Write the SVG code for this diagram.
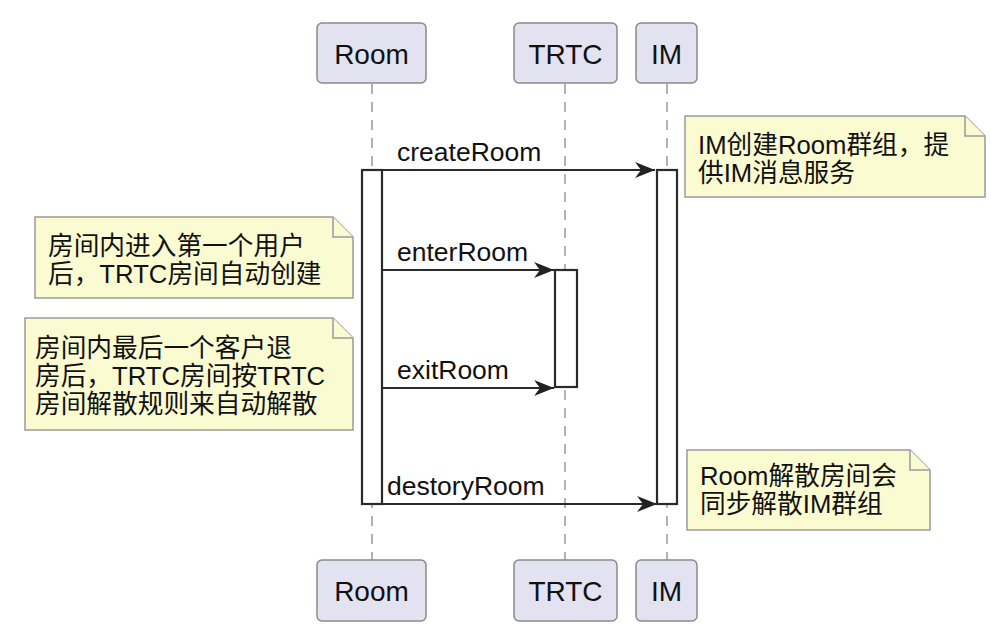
<svg xmlns="http://www.w3.org/2000/svg" width="991" height="625" viewBox="0 0 991 625">
<style>
.part{fill:#E2E2F0;stroke:#8a8a8a;stroke-width:1.5}
.plabel{font-family:"Liberation Sans","Noto Sans CJK SC",sans-serif;font-size:28px;fill:#111;text-anchor:middle}
.life{stroke:#999;stroke-width:1.5;stroke-dasharray:10 8;fill:none}
.act{fill:#fff;stroke:#2a2a2a;stroke-width:2.2}
.msg{stroke:#2a2a2a;stroke-width:2;fill:none}
.mtext{font-family:"Liberation Sans","Noto Sans CJK SC",sans-serif;font-size:26.5px;fill:#111}
.note{fill:#FBFBD2;stroke:#9a9a9a;stroke-width:1.5}
.ntext{font-family:"Liberation Sans","Noto Sans CJK SC",sans-serif;font-size:25.7px;fill:#111}
</style>
<defs>
<marker id="ah" viewBox="0 0 20 16" refX="20" refY="8" markerWidth="20" markerHeight="16" markerUnits="userSpaceOnUse" orient="auto">
<path d="M0,0 L20,8 L0,16 L6,8 Z" fill="#222"/>
</marker>
</defs>
<rect width="991" height="625" fill="#fff"/>
<g id="lifelines">
<line class="life" x1="372" y1="84" x2="372" y2="560"/>
<line class="life" x1="565" y1="84" x2="565" y2="560"/>
<line class="life" x1="667" y1="84" x2="667" y2="560"/>
</g>
<g id="Room-top"><rect class="part" x="317" y="23" width="109" height="60" rx="5"/><text class="plabel" x="371.5" y="64">Room</text></g>
<g id="TRTC-top"><rect class="part" x="514" y="23" width="103" height="60" rx="5"/><text class="plabel" x="565.5" y="64">TRTC</text></g>
<g id="IM-top"><rect class="part" x="636" y="23" width="61" height="60" rx="5"/><text class="plabel" x="666.5" y="64">IM</text></g>
<g id="Room-bottom"><rect class="part" x="317" y="560" width="109" height="61" rx="5"/><text class="plabel" x="371.5" y="601">Room</text></g>
<g id="TRTC-bottom"><rect class="part" x="514" y="560" width="103" height="61" rx="5"/><text class="plabel" x="565.5" y="601">TRTC</text></g>
<g id="IM-bottom"><rect class="part" x="636" y="560" width="61" height="61" rx="5"/><text class="plabel" x="666.5" y="601">IM</text></g>
<g id="activations">
<rect class="act" x="362" y="170" width="20" height="334"/>
<rect class="act" x="657" y="170" width="20" height="334"/>
<rect class="act" x="555" y="270" width="22" height="117"/>
</g>
<g id="connectors">
<line class="msg" x1="382" y1="170" x2="655" y2="170" marker-end="url(#ah)"/>
<text class="mtext" x="397" y="161">createRoom</text>
<line class="msg" x1="382" y1="270" x2="554" y2="270" marker-end="url(#ah)"/>
<text class="mtext" x="397" y="261">enterRoom</text>
<line class="msg" x1="382" y1="388" x2="554" y2="388" marker-end="url(#ah)"/>
<text class="mtext" x="397" y="379">exitRoom</text>
<line class="msg" x1="382" y1="504" x2="657" y2="504" marker-end="url(#ah)"/>
<text class="mtext" x="387" y="495">destoryRoom</text>
</g>
<g id="note-im">
<path class="note" d="M685,116 H965 L985,136 V197 H685 Z"/>
<path class="note" d="M965,116 V136 H985"/>
<text class="ntext" x="698" y="154">IM创建Room群组，提</text>
<text class="ntext" x="698" y="182">供IM消息服务</text>
</g>
<g id="note-enter">
<path class="note" d="M35,217 H333 L353,237 V298 H35 Z"/>
<path class="note" d="M333,217 V237 H353"/>
<text class="ntext" x="48" y="255">房间内进入第一个用户</text>
<text class="ntext" x="48" y="283">后，TRTC房间自动创建</text>
</g>
<g id="note-exit">
<path class="note" d="M25,318 H333 L353,338 V430 H25 Z"/>
<path class="note" d="M333,318 V338 H353"/>
<text class="ntext" x="35" y="357">房间内最后一个客户退</text>
<text class="ntext" x="35" y="385">房后，TRTC房间按TRTC</text>
<text class="ntext" x="35" y="413">房间解散规则来自动解散</text>
</g>
<g id="note-destroy">
<path class="note" d="M687,450 H910 L930,470 V530 H687 Z"/>
<path class="note" d="M910,450 V470 H930"/>
<text class="ntext" x="700" y="485">Room解散房间会</text>
<text class="ntext" x="700" y="513">同步解散IM群组</text>
</g>
</svg>
